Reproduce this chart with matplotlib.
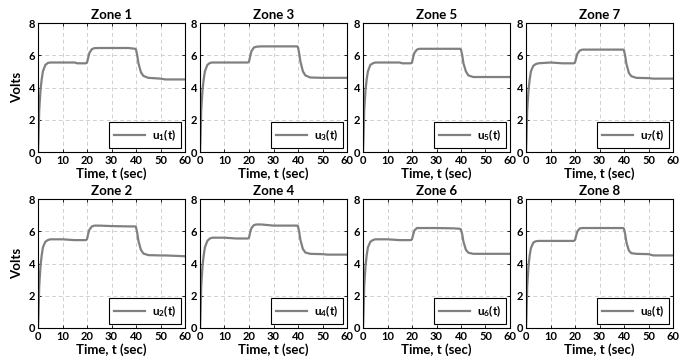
import matplotlib
matplotlib.use("Agg")
import matplotlib.pyplot as plt

plt.rcParams['font.family'] = ['Lato', 'DejaVu Sans']
plt.rcParams['font.weight'] = 'bold'
plt.rcParams['mathtext.default'] = 'regular'

t = [0, 0.2, 0.5, 1, 1.5, 2, 3, 4, 5, 10, 15, 16, 19.5, 20, 20.5, 21, 22, 23, 25, 30,
     37, 39.7, 40, 40.5, 41, 42, 43, 45, 50, 52, 60]

u1 = [0, 0.8, 2.6, 3.8, 4.5, 5.0, 5.4, 5.52, 5.55, 5.55, 5.55, 5.5, 5.5, 5.55, 5.85, 6.15, 6.38, 6.44, 6.45, 6.45, 6.45, 6.4, 6.35, 6.0, 5.5, 4.95, 4.72, 4.6, 4.55, 4.5, 4.5]
u3 = [0, 0.8, 2.6, 3.8, 4.5, 5.0, 5.4, 5.52, 5.55, 5.55, 5.55, 5.55, 5.55, 5.6, 5.95, 6.25, 6.48, 6.53, 6.55, 6.55, 6.55, 6.55, 6.5, 6.1, 5.6, 5.0, 4.75, 4.62, 4.6, 4.6, 4.6]
u5 = [0, 0.8, 2.6, 3.8, 4.5, 5.0, 5.4, 5.5, 5.55, 5.55, 5.55, 5.5, 5.5, 5.55, 5.9, 6.15, 6.35, 6.4, 6.4, 6.4, 6.4, 6.4, 6.35, 6.0, 5.5, 5.0, 4.75, 4.65, 4.65, 4.65, 4.65]
u7 = [0, 0.8, 2.6, 3.8, 4.5, 5.0, 5.35, 5.45, 5.5, 5.55, 5.5, 5.5, 5.5, 5.55, 5.85, 6.1, 6.3, 6.35, 6.35, 6.35, 6.35, 6.35, 6.3, 5.95, 5.45, 4.9, 4.7, 4.6, 4.58, 4.55, 4.55]
u2 = [0, 0.8, 2.6, 3.8, 4.5, 5.0, 5.35, 5.45, 5.5, 5.5, 5.45, 5.45, 5.45, 5.5, 5.85, 6.1, 6.3, 6.35, 6.35, 6.32, 6.3, 6.3, 6.25, 5.9, 5.4, 4.85, 4.62, 4.52, 4.5, 4.5, 4.45]
u4 = [0, 0.8, 2.6, 3.8, 4.5, 5.0, 5.4, 5.55, 5.6, 5.6, 5.55, 5.55, 5.55, 5.6, 5.95, 6.2, 6.38, 6.42, 6.42, 6.35, 6.35, 6.35, 6.3, 5.95, 5.45, 4.9, 4.68, 4.6, 4.58, 4.55, 4.55]
u6 = [0, 0.8, 2.6, 3.8, 4.5, 5.0, 5.35, 5.45, 5.5, 5.5, 5.45, 5.45, 5.45, 5.5, 5.8, 6.05, 6.2, 6.2, 6.2, 6.2, 6.18, 6.15, 6.1, 5.8, 5.35, 4.85, 4.67, 4.6, 4.6, 4.6, 4.6]
u8 = [0, 0.8, 2.6, 3.8, 4.5, 4.95, 5.3, 5.38, 5.4, 5.4, 5.4, 5.4, 5.4, 5.45, 5.75, 6.0, 6.18, 6.2, 6.2, 6.2, 6.2, 6.2, 6.15, 5.8, 5.3, 4.8, 4.64, 4.6, 4.58, 4.5, 4.5]

zones = [(1, u1), (3, u3), (5, u5), (7, u7), (2, u2), (4, u4), (6, u6), (8, u8)]
xticks = [0, 10, 20, 30, 40, 50, 60]
yticks = [0, 2, 4, 6, 8]

W, H = 687, 364
fig = plt.figure(figsize=(W / 100, H / 100), dpi=100)

lefts = [38, 200, 363, 526]
tops = [23, 199]
aw, ah = 147, 129

for i, (z, u) in enumerate(zones):
    r, c = divmod(i, 4)
    ax = fig.add_axes([lefts[c] / W, 1 - (tops[r] + ah) / H, aw / W, ah / H])
    ax.plot(t, u, color='#808080', lw=1.6, label=f'u$_{{{z}}}$(t)')
    ax.set_xlim(0, 60)
    ax.set_ylim(0, 8)
    ax.set_xticks(xticks)
    ax.set_yticks(yticks)
    ax.grid(True, ls=(0, (4, 3)), color='#d0d0d0', lw=0.7)
    ax.tick_params(direction='in', top=True, right=True, labelsize=8, length=2.5, width=0.6, pad=2)
    for lab in ax.get_xticklabels() + ax.get_yticklabels():
        lab.set_fontweight('bold')
    for s in ax.spines.values():
        s.set_linewidth(0.8)
    ax.set_title(f'Zone {z}', fontsize=9.5, fontweight='bold', pad=3)
    ax.set_xlabel('Time, t (sec)', fontsize=9.5, fontweight='bold', labelpad=1)
    if c == 0:
        ax.set_ylabel('Volts', fontsize=9.5, fontweight='bold', labelpad=4)
    leg = ax.legend(loc='lower right', fontsize=8.5, frameon=True, fancybox=False,
                    edgecolor='black', framealpha=1, handlelength=2.6,
                    handletextpad=0.6, borderaxespad=0.3, borderpad=0.45)
    leg.get_frame().set_linewidth(0.8)

fig.savefig('out.png', dpi=100)
